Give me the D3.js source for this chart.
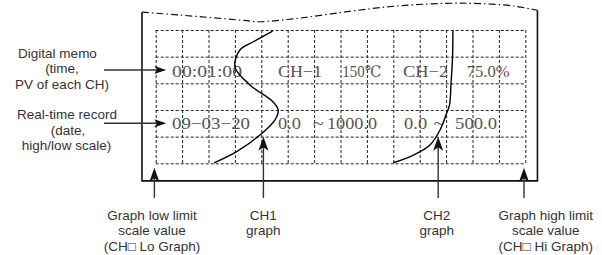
<!DOCTYPE html>
<html><head><meta charset="utf-8">
<script src="https://cdn.jsdelivr.net/npm/d3@7"></script>
<style>html,body{margin:0;padding:0;background:#fff;}svg{display:block;}</style>
</head><body>
<script>
// ---------- data (grid units: x = column index 0..14, y = row index 0..5) ----------
const gridCols = d3.range(0, 15);
const gridRows = d3.range(0, 6);

const ch1Curve = [[4.43,0.04],[3.70,0.44],[3.19,0.75],[3.00,1.38],[3.57,2.06],[4.44,2.69],[4.64,3.00],[4.52,3.37],[3.95,3.94],[3.07,4.56],[2.21,4.98]];
const ch2Curve = [[11.26,0.00],[11.24,1.12],[11.19,1.95],[11.13,2.81],[11.02,3.12],[10.77,3.75],[10.39,4.31],[9.76,4.69],[9.00,4.98]];

const memoTexts   = ["00:01:00", "CH\u22121", "150\u2103", "CH\u22122", "75.0%"];
const recordTexts = ["09\u221203\u221220", "0.0", "~", "1000.0", "0.0", "~", "500.0"];

const leftLabels1 = ["Digital memo", "(time,", "PV of each CH)"];
const leftLabels2 = ["Real-time record", "(date,", "high/low scale)"];
const bottomLabels = [
  ["Graph low limit", "scale value", "(CH\u25A1 Lo Graph)"],
  ["CH1", "graph"],
  ["CH2", "graph"],
  ["Graph high limit", "scale value", "(CH\u25A1 Hi Graph)"]
];

// ---------- layout ----------
const W = 602, H = 255;
const xs = d3.scaleLinear().domain([0, 14]).range([155.7, 525.3]);
const ys = d3.scaleLinear().domain([0, 5]).range([30, 163.3]);

const paperTop = [[-0.52,-0.67],[0.92,-0.56],[3.45,-0.35],[3.9,-0.31],[5.4,-0.44],[7.26,-0.69],[9.13,-0.9],[11.03,-1.0],[12.3,-0.99],[13.55,-0.9],[14.46,-0.74]];
const paperLeft = -0.52, paperRight = 14.46, paperBottom = 5.66;

const memoX = [0.62, 4.63, 7.07, 9.37, 11.78];
const memoW = [70, 44, 39, 45, 43];
const recX  = [0.62, 4.63, 5.95, 6.49, 9.41, 10.52, 11.34];
const recW  = [78, 23, 11, 50, 23, 11, 42];

const svg = d3.select("body").append("svg").attr("width", W).attr("height", H);
const ink = "#333";

// paper outline
svg.append("path")
  .attr("d", d3.line().x(d => xs(d[0])).y(d => ys(d[1])).curve(d3.curveCatmullRom)(paperTop))
  .attr("fill", "none").attr("stroke", "#111").attr("stroke-width", 1.2)
  .attr("stroke-dasharray", "7,3,1.5,3");
svg.append("path")
  .attr("d", d3.line()([[xs(paperLeft), ys(paperTop[0][1])], [xs(paperLeft), ys(paperBottom)], [xs(paperRight), ys(paperBottom)], [xs(paperRight), ys(paperTop[paperTop.length-1][1])]]))
  .attr("fill", "none").attr("stroke", "#111").attr("stroke-width", 1.6);

// grid
const g = svg.append("g").attr("stroke", "#222").attr("stroke-width", 1).attr("stroke-dasharray", "3,2");
g.selectAll("line.v").data(gridCols).join("line").attr("class", "v")
  .attr("x1", d => xs(d) + 0.5).attr("x2", d => xs(d) + 0.5)
  .attr("y1", ys(0)).attr("y2", ys(5));
g.selectAll("line.h").data(gridRows).join("line").attr("class", "h")
  .attr("y1", d => ys(d) + 0.5).attr("y2", d => ys(d) + 0.5)
  .attr("x1", xs(0)).attr("x2", xs(14));

// texts inside grid
function rowText(texts, xsArr, wArr, baseline) {
  svg.append("g").selectAll("text").data(texts).join("text")
    .attr("x", (d, i) => xs(xsArr[i])).attr("y", baseline)
    .attr("textLength", (d, i) => wArr[i]).attr("lengthAdjust", "spacingAndGlyphs")
    .attr("font-family", "'Liberation Serif', 'DejaVu Serif', serif")
    .attr("font-size", 16).attr("fill", "#555")
    .text(d => d);
}
rowText(memoTexts, memoX, memoW, ys(1.5) + 7.5);
rowText(recordTexts, recX, recW, ys(3.5) + 5.7);

// curves
const curveLine = d3.line().x(d => xs(d[0])).y(d => ys(d[1])).curve(d3.curveCatmullRom.alpha(0.5));
[ch1Curve, ch2Curve].forEach(c => {
  svg.append("path").attr("d", curveLine(c)).attr("fill", "none")
    .attr("stroke", "#000").attr("stroke-width", 1.4);
});

// arrows
function arrow(x1, y1, x2, y2, len, hw) {
  const ang = Math.atan2(y2 - y1, x2 - x1);
  const ux = Math.cos(ang), uy = Math.sin(ang), px = -uy, py = ux;
  svg.append("line").attr("x1", x1).attr("y1", y1)
    .attr("x2", x2 - ux * len * 0.7).attr("y2", y2 - uy * len * 0.7)
    .attr("stroke", ink).attr("stroke-width", 1.4);
  const bx = x2 - ux * len, by = y2 - uy * len;
  const nx = x2 - ux * len * 0.75, ny = y2 - uy * len * 0.75;
  svg.append("path")
    .attr("d", `M${x2},${y2}L${bx + px*hw},${by + py*hw}L${nx},${ny}L${bx - px*hw},${by - py*hw}Z`)
    .attr("fill", "#111");
}
arrow(xs(-1.96), ys(1.5), xs(0.4), ys(1.5), 12, 4);
arrow(xs(-1.96), ys(3.5), xs(0.4), ys(3.5), 12, 4);
const bottomArrowX = [-0.05, 4.08, 10.7, 13.95];
const bottomArrowTip = [5.17, 4.0, 4.0, 5.17];
bottomArrowX.forEach((x, i) => arrow(xs(x), ys(6.3), xs(x), ys(bottomArrowTip[i]), 14, 5));

// labels
function labelBlock(lines, centers, baselines) {
  svg.append("g").selectAll("text").data(lines).join("text")
    .attr("x", (d, i) => centers[i]).attr("y", (d, i) => baselines[i])
    .attr("text-anchor", "middle")
    .attr("font-family", "'Liberation Sans', Arial, 'DejaVu Sans', sans-serif")
    .attr("font-size", 13.5).attr("fill", ink)
    .text(d => d);
}
labelBlock(leftLabels1, [57.5, 62, 62], [57.5, 73, 88.5]);
labelBlock(leftLabels2, [67, 68, 66.5], [119, 134.5, 150]);
const bottomCenters = [152, 263.3, 436.7, 545.7];
bottomLabels.forEach((lines, i) => {
  labelBlock(lines, lines.map(() => bottomCenters[i]), [219.5, 235, 250.5]);
});
</script>
</body></html>
